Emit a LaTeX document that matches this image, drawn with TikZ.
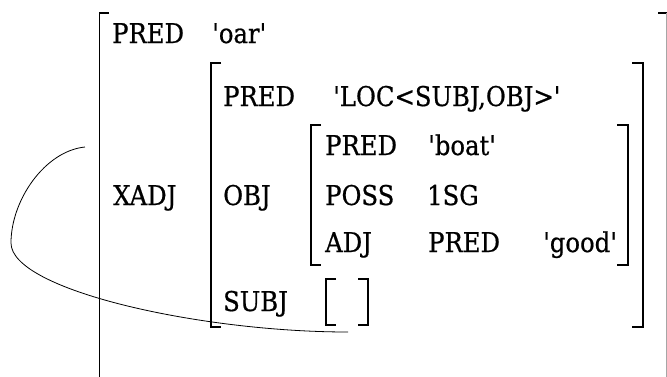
\documentclass[tikz,border=0pt]{standalone}
\usepackage{fontspec}
\setmainfont{DejaVu Serif}[Ligatures=TeXOff, FakeBold=0.7]
\tikzset{
  lbl/.style={anchor=base west, inner sep=0pt, yscale=1.12,
              font=\fontsize{24.3}{30}\selectfont},
  brk/.style={line width=1.4pt, line cap=butt, line join=miter},
  link/.style={line width=0.8pt},
}
\begin{document}
\begin{tikzpicture}[x=1pt, y=-1pt]
  \useasboundingbox (0,0) rectangle (667,376);
  \clip (0,0) rectangle (667,376);

  % outer f-structure brackets
  \draw[brk] (109,13) -- (99.5,13) -- (99.5,380);
  \draw[brk] (658,13) -- (666.5,13);
  \draw[line width=0.9pt, black!35] (666.5,13) -- (666.5,380);

  % XADJ value
  \draw[brk] (221,63) -- (211,63) -- (211,327) -- (221,327);
  \draw[brk] (632,63) -- (643,63) -- (643,327) -- (632,327);

  % OBJ value
  \draw[brk] (321,125) -- (311,125) -- (311,265) -- (321,265);
  \draw[brk] (617,125) -- (628,125) -- (628,265) -- (617,265);

  % empty SUBJ value
  \draw[brk] (336,279) -- (326,279) -- (326,325) -- (336,325);
  \draw[brk] (358,279) -- (368,279) -- (368,325) -- (358,325);

  % attributes and values
  \node[lbl] (p1)   at (112,43)  {PRED};
  \node[lbl] (v1)   at (212,43)  {'oar'};
  \node[lbl] (p2)   at (223,106) {PRED};
  \node[lbl] (v2)   at (333,106) {'LOC<SUBJ,OBJ>'};
  \node[lbl] (p3)   at (325,155) {PRED};
  \node[lbl] (v3)   at (428,155) {'boat'};
  \node[lbl] (xadj) at (113,205) {XADJ};
  \node[lbl] (obj)  at (223,205) {OBJ};
  \node[lbl] (poss) at (325,205) {POSS};
  \node[lbl] (sg)   at (427,205) {1SG};
  \node[lbl] (adj)  at (325,252) {ADJ};
  \node[lbl] (p4)   at (428,252) {PRED};
  \node[lbl] (v4)   at (543,252) {'good'};
  \node[lbl] (subj) at (223,311) {SUBJ};

  % control link from the outer subject to the XADJ's SUBJ
  \coordinate (ctlsrc) at (85,147);
  \coordinate (ctldst) at (348,332);
  \draw[link] (ctlsrc) .. controls (45,151) and (11,200) .. (11,243)
              .. controls (11,290) and (200,332) .. (ctldst);
\end{tikzpicture}
\end{document}
